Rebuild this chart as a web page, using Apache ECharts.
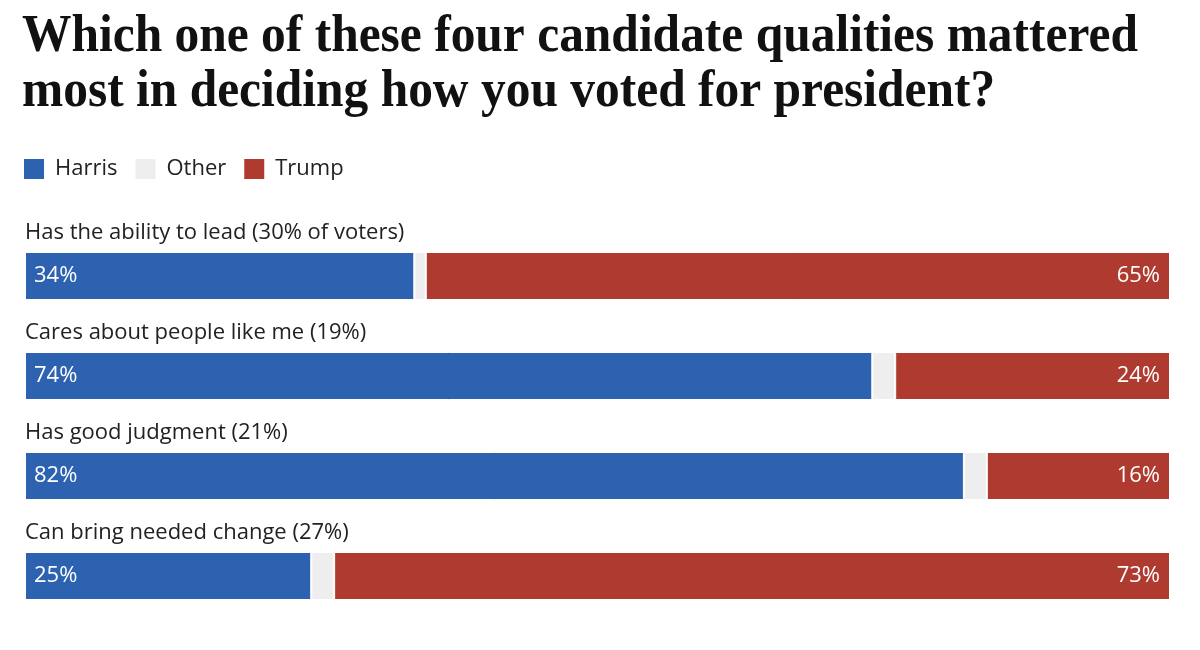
<!DOCTYPE html>
<html><head><meta charset="utf-8">
<script src="https://cdn.jsdelivr.net/npm/echarts@6/dist/echarts.min.js"></script>
<style>html,body{margin:0;padding:0;background:#fff}#c{width:1200px;height:650px}</style>
</head><body><div id="c"></div>
<script>
const titleLines = ["Which one of these four candidate qualities mattered", "most in deciding how you voted for president?"];
const categories = ["Has the ability to lead (30% of voters)", "Cares about people like me (19%)", "Has good judgment (21%)", "Can bring needed change (27%)"];
const harris = [34, 74, 82, 25];
const other = [1, 2, 2, 2];
const trump = [65, 24, 16, 73];

const titleFont = 'bold 52px "Liberation Serif"';
const cv = document.createElement('canvas').getContext('2d');
cv.font = titleFont;
const w1 = cv.measureText(titleLines[0]).width;
const sx = 1116 / w1;

const FF = '"Open Sans"';
const chart = echarts.init(document.getElementById('c'), null, {renderer: 'canvas'});
const lbl = {color: '#fff', fontFamily: FF, fontSize: 22};
chart.setOption({
  animation: false,
  graphic: titleLines.map((t, i) => ({
    type: 'text', left: 22, top: 12 + i * 55, scaleX: sx, originX: 0,
    style: {text: t, font: titleFont, fill: '#111'}
  })),
  legend: {
    left: 22, top: 157, padding: 0, itemWidth: 22, itemHeight: 22, itemGap: 16, icon: 'rect',
    textStyle: {fontFamily: FF, fontSize: 22, color: '#222', padding: [0, 0, 0, 5]},
    data: ['Harris', 'Other', 'Trump']
  },
  grid: {left: 25, right: 30, top: 226, bottom: 24},
  xAxis: {type: 'value', min: 0, max: 100, show: false},
  yAxis: {
    type: 'category', data: categories, inverse: true,
    axisLine: {show: false}, axisTick: {show: false},
    axisLabel: {inside: true, align: 'left', verticalAlign: 'bottom', margin: 0,
      padding: [0, 0, 32, 0], fontFamily: FF, fontSize: 22, color: '#222'}
  },
  series: [
    {name: 'Harris', type: 'bar', stack: 's', data: harris, barWidth: 48,
     itemStyle: {color: '#2c62b0', borderColor: '#fff', borderWidth: 1},
     label: Object.assign({show: true, position: 'insideLeft', distance: 9, formatter: '{c}%'}, lbl)},
    {name: 'Other', type: 'bar', stack: 's', data: other, barWidth: 48,
     itemStyle: {color: '#eeeeee', borderColor: '#fff', borderWidth: 1}},
    {name: 'Trump', type: 'bar', stack: 's', data: trump, barWidth: 48,
     itemStyle: {color: '#af3a2f', borderColor: '#fff', borderWidth: 1},
     label: Object.assign({show: true, position: 'insideRight', distance: 10, formatter: '{c}%'}, lbl)}
  ]
});
</script></body></html>
